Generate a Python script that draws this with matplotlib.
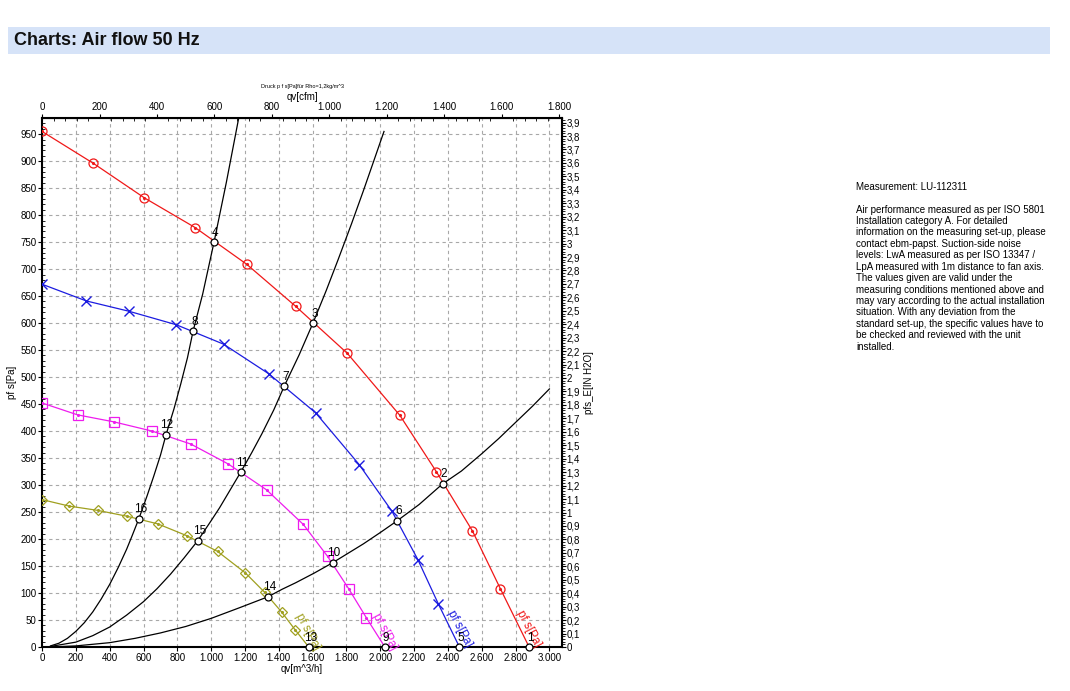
import matplotlib
matplotlib.use("Agg")
import matplotlib.pyplot as plt
from matplotlib.patches import Rectangle
from matplotlib.ticker import MultipleLocator, FuncFormatter

plt.rcParams['font.family'] = ['Liberation Sans', 'DejaVu Sans']

# fan curves: qv [m^3/h], static pressure [Pa] (last point = curve end, no marker)
red_q = [0, 303, 605, 905, 1210, 1500, 1805, 2116, 2331, 2545, 2710, 2880]
red_p = [955, 896, 832, 777, 709, 631, 544, 429, 325, 215, 108, 0]
blue_q = [0, 262, 513, 793, 1073, 1341, 1617, 1875, 2070, 2222, 2343, 2468]
blue_p = [672, 641, 622, 597, 561, 506, 434, 338, 251, 162, 80, 0]
mag_q = [0, 210, 425, 650, 879, 1101, 1328, 1545, 1688, 1813, 1918, 2027]
mag_p = [452, 430, 417, 400, 376, 339, 291, 227, 168, 108, 54, 0]
oli_q = [0, 160, 330, 505, 685, 857, 1038, 1203, 1317, 1416, 1496, 1577]
oli_p = [273, 261, 253, 242, 228, 206, 177, 137, 101, 65, 32, 0]

# system curves (black)
sysA_q = [50, 100, 150, 200, 250, 300, 350, 400, 450, 500, 530, 573, 620, 660, 700,
          733, 780, 820, 860, 893, 950, 1017, 1090, 1163]
sysA_p = [2, 7, 16, 29, 45, 65, 89, 116, 147, 181, 204, 238, 279, 316, 355,
          393, 441, 487, 536, 585, 654, 750, 861, 980]
sysB_q = [50, 200, 300, 400, 500, 600, 680, 760, 840, 921, 1000, 1050, 1175, 1240, 1300,
          1370, 1432, 1520, 1602, 1680, 1750, 1830, 1900, 1960, 2022]
sysB_p = [1, 9, 21, 37, 59, 84, 108, 135, 165, 197, 234, 258, 324, 360, 395,
          439, 483, 541, 600, 660, 717, 784, 845, 899, 955]
sysC_q = [50, 200, 400, 550, 700, 850, 1000, 1170, 1336, 1420, 1500, 1610, 1718, 1900,
          2000, 2101, 2230, 2368, 2480, 2600, 2700, 2800, 2900, 3000]
sysC_p = [0, 2, 8, 16, 26, 38, 53, 73, 93, 107, 119, 137, 156, 191,
          212, 234, 264, 302, 326, 358, 386, 416, 446, 478]

# operating points
op_n = [1, 2, 3, 4, 5, 6, 7, 8, 9, 10, 11, 12, 13, 14, 15, 16]
op_q = [2880, 2368, 1603, 1017, 2468, 2101, 1432, 894, 2027, 1718, 1175, 731, 1577, 1336, 921, 573]
op_p = [0, 302, 600, 750, 0, 234, 483, 585, 0, 156, 324, 393, 0, 93, 197, 238]

# curve name labels
lab_q = [2875, 2470, 2025, 1572]
lab_p = [33, 34, 29, 29]
lab_txt = "pf s[Pa]"

x_ticks = list(range(0, 3001, 200))
y_ticks = list(range(0, 951, 50))
cfm_ticks = list(range(0, 1801, 200))

M3H_PER_CFM = 1.699
PA_PER_INH2O = 249.09

fig = plt.figure(figsize=(10.7, 6.91), dpi=100)
fig.patches.append(Rectangle((0.0075, 0.922), 0.974, 0.039, transform=fig.transFigure,
                             facecolor='#d6e3f8', edgecolor='none', zorder=0))
fig.text(0.013, 0.942, "Charts: Air flow 50 Hz", fontsize=13, fontweight='bold',
         va='center', ha='left', color='#111111')

ax = fig.add_axes([0.0393, 0.0637, 0.4860, 0.7656])
ax.set_xlim(0, 3075)
ax.set_ylim(0, 980)

ax.set_xticks(x_ticks)
ax.set_yticks(y_ticks)
ax.yaxis.set_minor_locator(MultipleLocator(10))
ax.grid(True, which='major', color='#a8a8a8', linestyle=(0, (3, 3)), linewidth=0.8)

thou = FuncFormatter(lambda v, p: f"{int(round(v)):,}".replace(",", "."))
ax.xaxis.set_major_formatter(thou)
ax.tick_params(axis='both', which='major', labelsize=7, length=3, width=0.8, pad=1)
ax.tick_params(axis='y', which='minor', direction='in', length=2.5, width=0.6)
for s in ax.spines.values():
    s.set_linewidth(1.5)

# fan curves
curves = [
    (red_q, red_p, '#f01818', 'o'),
    (blue_q, blue_p, '#1c1ce0', 'x'),
    (mag_q, mag_p, '#ee1cee', 's'),
    (oli_q, oli_p, '#a0a020', 'D'),
]
for q, p, c, m in curves:
    ax.plot(q, p, color=c, linewidth=0.9, zorder=3)
    if m == 'x':
        ax.plot(q[:-1], p[:-1], linestyle='none', marker='x', color=c, markersize=6.5,
                markeredgewidth=1.0, zorder=4)
    else:
        ms = 5.5 if m == 'D' else 6.5
        ax.plot(q[:-1], p[:-1], linestyle='none', marker=m, markerfacecolor='none',
                markeredgecolor=c, markersize=ms, markeredgewidth=0.9, zorder=4)
        ax.plot(q[:-1], p[:-1], linestyle='none', marker='.', color=c, markersize=2.5, zorder=4)

for (q, p, c, m), lq, lp in zip(curves, lab_q, lab_p):
    ax.text(lq, lp, lab_txt, color=c, fontsize=8.5, rotation=-62, ha='center', va='center',
            rotation_mode='anchor', zorder=5)

# system curves
for q, p in [(sysA_q, sysA_p), (sysB_q, sysB_p), (sysC_q, sysC_p)]:
    ax.plot(q, p, color='black', linewidth=0.9, zorder=3)

ax.plot(op_q, op_p, linestyle='none', marker='o', markerfacecolor='white',
        markeredgecolor='black', markersize=5, markeredgewidth=0.9, zorder=6, clip_on=False)
for n, q, p in zip(op_n, op_q, op_p):
    ax.annotate(str(n), (q, p), xytext=(1, 2.5), textcoords='offset points',
                ha='center', va='bottom', fontsize=8.5, zorder=7)

ax.set_xlabel("qv[m^3/h]", fontsize=7, labelpad=1)
ax.set_ylabel("pf s[Pa]", fontsize=7, labelpad=2)

# top axis in cfm
top = ax.secondary_xaxis('top', functions=(lambda x: x / M3H_PER_CFM, lambda x: x * M3H_PER_CFM))
top.set_xticks(cfm_ticks)
top.xaxis.set_major_formatter(thou)
top.xaxis.set_minor_locator(MultipleLocator(40))
top.tick_params(which='major', labelsize=7, length=3, width=0.8, pad=1)
top.tick_params(which='minor', direction='in', length=2, width=0.6)
top.set_xlabel("qv[cfm]", fontsize=7, labelpad=2)

# right axis in inch water
def inh2o_fmt(v, p):
    if abs(v - round(v)) < 1e-6:
        return str(int(round(v)))
    return f"{v:.1f}".replace(".", ",")

right = ax.secondary_yaxis('right', functions=(lambda y: y / PA_PER_INH2O, lambda y: y * PA_PER_INH2O))
right.yaxis.set_major_locator(MultipleLocator(0.1))
right.yaxis.set_minor_locator(MultipleLocator(0.02))
right.yaxis.set_major_formatter(FuncFormatter(inh2o_fmt))
right.tick_params(which='major', labelsize=7, length=3, width=0.8, pad=0)
right.tick_params(which='minor', length=2, width=0.6)
right.set_ylabel("pfs_E[IN H2O]", fontsize=7, labelpad=3)

fig.text(0.2823, 0.875, "Druck p f s[Pa]für Rho=1,2kg/m^3", fontsize=4, ha='center', va='center')

fig.text(0.8, 0.729, "Measurement: LU-112311", fontsize=7, ha='left', va='center')
note = ("Air performance measured as per ISO 5801\n"
        "Installation category A. For detailed\n"
        "information on the measuring set-up, please\n"
        "contact ebm-papst. Suction-side noise\n"
        "levels: LwA measured as per ISO 13347 /\n"
        "LpA measured with 1m distance to fan axis.\n"
        "The values given are valid under the\n"
        "measuring conditions mentioned above and\n"
        "may vary according to the actual installation\n"
        "situation. With any deviation from the\n"
        "standard set-up, the specific values have to\n"
        "be checked and reviewed with the unit\n"
        "installed.")
fig.text(0.8, 0.704, note, fontsize=7, ha='left', va='top', linespacing=1.18)

fig.savefig("out.png", dpi=100)
